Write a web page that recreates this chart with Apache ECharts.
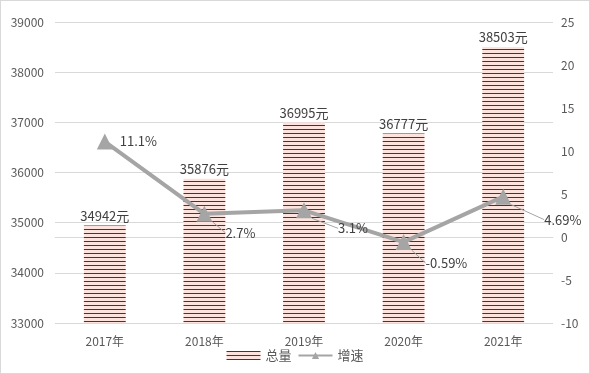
<!DOCTYPE html>
<html>
<head>
<meta charset="utf-8">
<script src="https://cdn.jsdelivr.net/npm/echarts@6/dist/echarts.min.js"></script>
<style>
html,body{margin:0;padding:0;background:#fff;}
#c{width:588px;height:372px;border:1px solid #d9d9d9;}
</style>
</head>
<body>
<div id="c"></div>
<script>
const categories = ['2017年', '2018年', '2019年', '2020年', '2021年'];
const totals = [34942, 35876, 36995, 36777, 38503];
const growth = [11.1, 2.7, 3.1, -0.59, 4.69];
const growthLabels = ['11.1%', '2.7%', '3.1%', '-0.59%', '4.69%'];
const labelDx = [2, 8, 21, 9, 28];
const labelDy = [0, 19, 18, 21, 23];

function stripe() {
  const cv = document.createElement('canvas');
  cv.width = 4; cv.height = 4;
  const g = cv.getContext('2d');
  g.fillStyle = '#fde3de'; g.fillRect(0, 0, 4, 4);
  g.fillStyle = '#901515'; g.fillRect(0, 0, 4, 1);
  return cv;
}
const pat = { image: stripe(), repeat: 'repeat' };
const font = "'Noto Sans CJK SC', 'Noto Sans', sans-serif";

const lineData = growth.map((v, i) => i === 0 ? { value: v, labelLine: { show: false } } : v);

const chart = echarts.init(document.getElementById('c'), null, { renderer: 'canvas' });
chart.setOption({
  animation: false,
  textStyle: { fontFamily: font },
  grid: { left: 54, right: 36, top: 21, bottom: 50 },
  legend: {
    bottom: 6, left: 'center', itemGap: 6, itemWidth: 34, itemHeight: 9,
    textStyle: { fontSize: 13, color: '#595959', fontFamily: font },
    data: [{ name: '总量', icon: 'rect' }, { name: '增速' }]
  },
  xAxis: {
    type: 'category', data: categories,
    axisLine: { lineStyle: { color: '#d9d9d9' } },
    axisTick: { show: false },
    axisLabel: { color: '#595959', fontSize: 12, margin: 12 }
  },
  yAxis: [{
    type: 'value', min: 33000, max: 39000, interval: 1000,
    axisLine: { show: false }, axisTick: { show: false },
    splitLine: { lineStyle: { color: '#d9d9d9' } },
    axisLabel: { color: '#595959', fontSize: 12, margin: 11, formatter: v => String(v) }
  }, {
    type: 'value', min: -10, max: 25, interval: 5,
    axisLine: { show: false }, axisTick: { show: false },
    splitLine: { show: false },
    axisLabel: { color: '#595959', fontSize: 12, margin: 8, formatter: v => String(v) }
  }],
  series: [{
    name: '总量', type: 'bar', data: totals, barWidth: '42%',
    itemStyle: { color: pat },
    label: {
      show: true, position: 'top', distance: 3, color: '#404040', fontSize: 13,
      formatter: p => p.value + '元'
    }
  }, {
    name: '增速', type: 'line', yAxisIndex: 1, data: lineData,
    symbol: 'triangle', symbolSize: 16,
    lineStyle: { color: '#a5a5a5', width: 4 },
    itemStyle: { color: '#a5a5a5' },
    label: {
      show: true, position: 'right', distance: 5, color: '#404040', fontSize: 13,
      formatter: p => growthLabels[p.dataIndex]
    },
    labelLine: { show: true, lineStyle: { color: '#a5a5a5', width: 1 } },
    labelLayout: p => ({ dx: labelDx[p.dataIndex], dy: labelDy[p.dataIndex] })
  }]
});
</script>
</body>
</html>
